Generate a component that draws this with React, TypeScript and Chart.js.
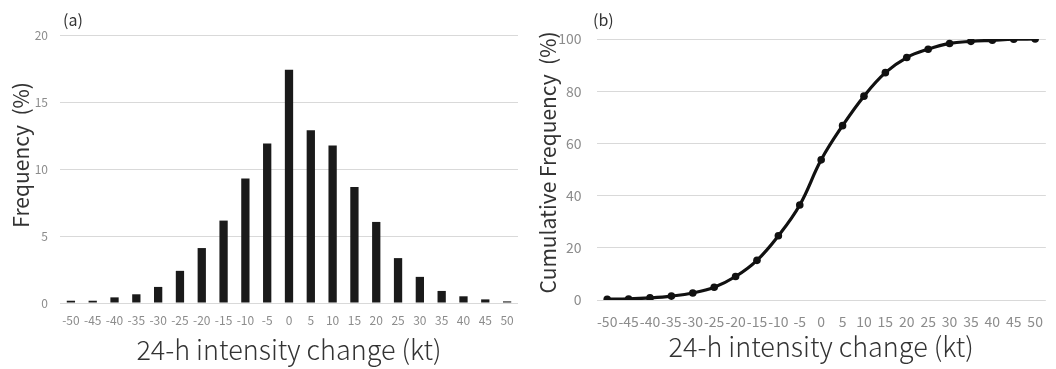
import React, { useEffect, useRef } from "react";
import { Chart, registerables } from "chart.js";

Chart.register(...registerables);

const categories = ["-50", "-45", "-40", "-35", "-30", "-25", "-20", "-15", "-10", "-5", "0", "5", "10", "15", "20", "25", "30", "35", "40", "45", "50"];
const frequency = [0.17, 0.17, 0.42, 0.65, 1.2, 2.4, 4.1, 6.15, 9.3, 11.9, 17.4, 12.9, 11.75, 8.65, 6.05, 3.35, 1.95, 0.9, 0.5, 0.27, 0.12];
const cumulative = [0.3, 0.4, 0.8, 1.5, 2.7, 4.9, 9.0, 15.2, 24.6, 36.4, 53.7, 66.8, 78.1, 87.1, 92.9, 96.1, 98.3, 99.1, 99.5, 99.9, 100];
const freqTicks = { min: 0, max: 20, step: 5 };
const cumTicks = { min: 0, max: 100, step: 20 };
const xTitle = "24-h intensity change (kt)";
const freqTitle = "      Frequency  (%)";
const cumTitle = "   Cumulative Frequency  (%)";

const FONT = "'Noto Sans CJK JP', 'Noto Sans', sans-serif";
const GRID = "#d9d9d9";
const TICK = "#8c8c8c";
const TITLE = "#333333";

function BarChart() {
  const ref = useRef<HTMLCanvasElement>(null);
  useEffect(() => {
    const chart = new Chart(ref.current!, {
      type: "bar",
      data: {
        labels: categories,
        datasets: [
          {
            data: frequency,
            backgroundColor: "#1a1a1a",
            barPercentage: 0.38,
            categoryPercentage: 1,
          },
        ],
      },
      options: {
        animation: false,
        responsive: false,
        layout: { padding: { left: 0, right: 12, top: 35, bottom: 0 } },
        plugins: { legend: { display: false }, tooltip: { enabled: false } },
        scales: {
          x: {
            afterFit: (s: any) => { s.height = 66; },
            grid: { display: false, drawTicks: false },
            border: { display: false },
            ticks: { font: { family: FONT, size: 12 }, color: TICK, padding: 10, maxRotation: 0, autoSkip: false },
            title: { display: true, text: xTitle, font: { family: FONT, size: 27, weight: "300" }, color: TITLE, padding: { top: 0, bottom: 3 } },
          },
          y: {
            min: freqTicks.min,
            max: freqTicks.max,
            afterFit: (s: any) => { s.width = 60; },
            grid: { color: GRID, lineWidth: 1, drawTicks: false },
            border: { display: false },
            ticks: { stepSize: freqTicks.step, font: { family: FONT, size: 12 }, color: TICK, padding: 12 },
            title: { display: true, text: freqTitle, font: { family: FONT, size: 21 }, color: TITLE, padding: { top: 8, bottom: 0 } },
          },
        },
      },
    });
    return () => chart.destroy();
  }, []);
  return <canvas ref={ref} width={530} height={369} style={{ position: "absolute", left: 0, top: 0 }} />;
}

function LineChart() {
  const ref = useRef<HTMLCanvasElement>(null);
  useEffect(() => {
    const chart = new Chart(ref.current!, {
      type: "line",
      data: {
        labels: categories,
        datasets: [
          {
            data: cumulative,
            borderColor: "#111111",
            backgroundColor: "#111111",
            borderWidth: 3.2,
            pointRadius: 3.8,
            pointBackgroundColor: "#111111",
            pointBorderWidth: 0,
            tension: 0.4,
            fill: false,
          },
        ],
      },
      options: {
        animation: false,
        responsive: false,
        layout: { padding: { left: 0, right: 4, top: 39, bottom: 0 } },
        plugins: { legend: { display: false }, tooltip: { enabled: false } },
        scales: {
          x: {
            offset: true,
            afterFit: (s: any) => { s.height = 69; },
            grid: { display: false, drawTicks: false },
            border: { display: false },
            ticks: { font: { family: FONT, size: 14 }, color: TICK, padding: 13, maxRotation: 0, autoSkip: false },
            title: { display: true, text: xTitle, font: { family: FONT, size: 27, weight: "300" }, color: TITLE, padding: { top: 0, bottom: 6 } },
          },
          y: {
            min: cumTicks.min,
            max: cumTicks.max,
            afterFit: (s: any) => { s.width = 66.5; },
            grid: { color: GRID, lineWidth: 1, drawTicks: false },
            border: { display: false },
            ticks: { stepSize: cumTicks.step, font: { family: FONT, size: 14 }, color: TICK, padding: 15 },
            title: { display: true, text: cumTitle, font: { family: FONT, size: 21 }, color: TITLE, padding: { top: 5, bottom: 0 } },
          },
        },
      },
    });
    return () => chart.destroy();
  }, []);
  return <canvas ref={ref} width={526} height={369} style={{ position: "absolute", left: 530, top: 0 }} />;
}

export default function App() {
  const panelLabel: React.CSSProperties = {
    position: "absolute",
    top: 9,
    fontFamily: FONT,
    fontSize: 16,
    lineHeight: "20px",
    color: TITLE,
  };
  return (
    <div style={{ position: "absolute", left: 0, top: 0, width: 1056, height: 369, background: "#fff", overflow: "hidden" }}>
      <BarChart />
      <LineChart />
      <div style={{ ...panelLabel, left: 63 }}>(a)</div>
      <div style={{ ...panelLabel, left: 593 }}>(b)</div>
    </div>
  );
}
